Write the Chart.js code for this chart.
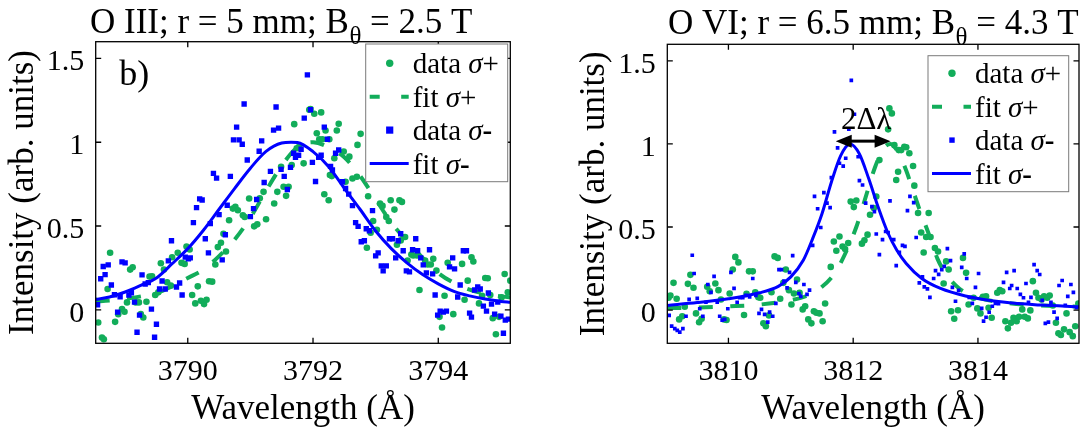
<!DOCTYPE html>
<html>
<head>
<meta charset="utf-8">
<script src="https://cdn.jsdelivr.net/npm/chart.js@4.4.1/dist/chart.umd.min.js"></script>
<style>
  html, body { margin: 0; padding: 0; background: #fff; }
  #wrap { position: relative; width: 1083px; height: 434px; overflow: hidden; }
  canvas { position: absolute; top: 0; }
  #left { left: 0; }
  #right { left: 541px; }
</style>
</head>
<body>
<div id="wrap">
  <canvas id="left" width="541" height="434"></canvas>
  <canvas id="right" width="542" height="434"></canvas>
</div>
<script>
// ---- O III panel (left) ----
const o3PlusX = [3788.53,3788.57,3788.63,3788.66,3788.72,3788.76,3788.84,3788.89,3788.95,3788.99,3789.03,3789.08,3789.12,3789.17,3789.22,3789.25,3789.29,3789.34,3789.39,3789.43,3789.48,3789.53,3789.57,3789.62,3789.67,3789.73,3789.75,3789.84,3789.90,3789.95,3789.98,3790.03,3790.07,3790.12,3790.16,3790.21,3790.26,3790.30,3790.34,3790.39,3790.44,3790.48,3790.53,3790.57,3790.61,3790.66,3790.72,3790.76,3790.80,3790.88,3790.91,3790.98,3791.06,3791.11,3791.15,3791.21,3791.25,3791.38,3791.43,3791.49,3791.53,3791.57,3791.61,3791.66,3791.70,3791.74,3791.78,3791.85,3791.94,3791.96,3792.02,3792.06,3792.10,3792.13,3792.15,3792.18,3792.20,3792.25,3792.26,3792.27,3792.30,3792.34,3792.38,3792.41,3792.49,3792.52,3792.58,3792.63,3792.70,3792.71,3792.76,3792.86,3792.88,3792.92,3792.96,3793.02,3793.07,3793.11,3793.17,3793.21,3793.24,3793.30,3793.34,3793.38,3793.40,3793.42,3793.47,3793.51,3793.57,3793.60,3793.66,3793.70,3793.79,3793.83,3793.88,3793.92,3793.97,3794.02,3794.06,3794.10,3794.15,3794.24,3794.38,3794.42,3794.47,3794.53,3794.56,3794.65,3794.70,3794.75,3794.79,3794.83,3794.87,3794.92,3794.97,3795.01,3795.06,3795.11,3795.15];
const o3PlusY = [0.054,-0.076,-0.166,-0.176,0.124,0.34,-0.072,-0.026,0.004,-0.012,0.044,0.24,0.254,0.044,0.044,-0.026,-0.046,0.048,0.198,0.2,0.088,0.104,0.278,0.24,0.164,0.144,0.314,0.34,0.28,0.274,0.378,0.36,0.088,0.038,0.14,0.054,0.034,0.06,0.17,0.168,0.27,0.374,0.4,0.454,0.348,0.534,0.604,0.614,0.594,0.564,0.554,0.664,0.498,0.51,0.665,0.704,0.54,0.634,0.704,0.854,0.734,0.68,0.734,0.864,1.108,0.964,0.974,0.874,1.194,1.198,1.17,1.054,1.018,1.178,1.018,0.69,1.07,0.654,1.018,0.804,0.798,0.904,1.07,1.11,0.944,0.764,0.914,0.784,0.794,0.984,1.05,0.37,0.678,0.46,0.53,0.478,0.634,0.62,0.554,0.53,0.654,0.598,0.388,0.654,0.414,0.644,0.434,0.294,0.33,0.324,0.324,0.118,0.294,0.27,0.27,0.304,0.234,-0.042,-0.106,0.084,0.28,-0.026,0.274,0.06,0.174,0.314,0.288,0.038,0.084,0.19,0.188,0.088,-0.05,-0.146,-0.042,0.074,0.214,0.104,0.174];
const o3MinusX = [3788.56,3788.61,3788.65,3788.68,3788.73,3788.78,3788.83,3788.88,3788.92,3788.95,3789.00,3789.06,3789.10,3789.15,3789.19,3789.23,3789.27,3789.32,3789.37,3789.42,3789.47,3789.50,3789.55,3789.59,3789.64,3789.69,3789.74,3789.82,3789.87,3789.91,3789.96,3790.01,3790.04,3790.09,3790.14,3790.19,3790.23,3790.28,3790.33,3790.36,3790.41,3790.46,3790.50,3790.55,3790.60,3790.63,3790.68,3790.73,3790.78,3790.82,3790.87,3790.90,3790.95,3791.00,3791.05,3791.10,3791.14,3791.18,3791.22,3791.32,3791.37,3791.41,3791.45,3791.49,3791.54,3791.59,3791.64,3791.69,3791.72,3791.77,3791.81,3791.86,3791.91,3791.96,3791.99,3792.04,3792.09,3792.13,3792.18,3792.23,3792.28,3792.31,3792.36,3792.41,3792.47,3792.52,3792.57,3792.63,3792.68,3792.72,3792.77,3792.82,3792.85,3792.90,3792.95,3793.00,3793.04,3793.09,3793.12,3793.17,3793.22,3793.27,3793.32,3793.36,3793.40,3793.44,3793.49,3793.54,3793.59,3793.64,3793.67,3793.72,3793.76,3793.81,3793.86,3793.91,3793.95,3793.99,3794.03,3794.08,3794.13,3794.18,3794.23,3794.26,3794.31,3794.35,3794.40,3794.45,3794.50,3794.53,3794.58,3794.63,3794.67,3794.72,3794.77,3794.80,3794.85,3794.90,3794.95,3795.00,3795.04,3795.07,3795.12];
const o3MinusY = [0.03,0.185,0.258,0.21,0.268,0.148,0.09,-0.014,0.078,0.286,0.28,0.088,0.102,0.046,-0.134,-0.032,0.208,0.154,0.162,0.004,-0.164,-0.086,0.124,0.172,0.124,0.292,0.412,0.136,0.16,0.088,0.314,0.304,0.31,0.52,0.61,0.662,0.655,0.424,0.34,0.514,0.814,0.786,0.568,0.298,0.448,0.624,0.796,1.014,1.09,1.014,0.988,1.228,0.894,0.556,0.604,0.658,0.946,1.008,0.76,0.826,1.072,1.21,1.084,0.838,0.796,0.718,0.85,0.934,0.91,0.922,0.958,1.144,1.402,1.194,0.88,0.766,0.91,0.922,1.09,1.018,0.856,0.834,0.934,0.954,0.764,0.724,0.69,0.622,0.52,0.498,0.406,0.412,0.484,0.472,0.592,0.322,0.34,0.262,0.232,0.262,0.424,0.424,0.31,0.412,0.454,0.352,0.232,0.226,0.358,0.424,0.352,0.31,0.268,0.22,0.358,0.214,0.088,-0.032,-0.008,-0.014,-0.008,0.256,0.31,0.244,0.076,0.148,0.352,0.352,-0.02,-0.044,0.118,0.136,0.124,0.022,-0.008,0.1,0.034,-0.026,0.046,-0.038,-0.14,-0.062,-0.056];
const o3FitPlusX = [3788.53,3788.75,3789.0,3789.25,3789.5,3789.75,3790.0,3790.25,3790.5,3790.75,3791.0,3791.25,3791.5,3791.75,3792.0,3792.25,3792.5,3792.75,3793.0,3793.25,3793.5,3793.75,3794.0,3794.25,3794.5,3794.75,3795.0,3795.15];
const o3FitPlusY = [0.05,0.055,0.065,0.08,0.10,0.14,0.19,0.24,0.32,0.42,0.55,0.71,0.86,0.97,1.0,0.97,0.91,0.80,0.66,0.52,0.41,0.31,0.22,0.16,0.12,0.095,0.08,0.075];
const o3FitMinusX = [3788.53,3788.75,3789.0,3789.25,3789.5,3789.75,3790.0,3790.25,3790.5,3790.75,3791.0,3791.25,3791.5,3791.65,3791.75,3792.0,3792.25,3792.5,3792.75,3793.0,3793.25,3793.5,3793.75,3794.0,3794.25,3794.5,3794.75,3795.0,3795.15];
const o3FitMinusY = [0.062,0.076,0.106,0.146,0.19,0.275,0.365,0.475,0.60,0.725,0.845,0.945,0.995,1.0,0.998,0.944,0.854,0.725,0.60,0.47,0.365,0.28,0.21,0.155,0.11,0.083,0.064,0.05,0.045];

// ---- O VI panel (right) ----
const o6PlusX = [3809.04,3809.07,3809.12,3809.17,3809.21,3809.26,3809.30,3809.35,3809.39,3809.44,3809.48,3809.53,3809.57,3809.66,3809.70,3809.79,3809.84,3809.88,3809.93,3809.97,3810.02,3810.07,3810.11,3810.16,3810.25,3810.29,3810.33,3810.39,3810.43,3810.48,3810.51,3810.56,3810.60,3810.65,3810.69,3810.74,3810.79,3810.83,3810.88,3810.92,3810.97,3811.01,3811.05,3811.10,3811.14,3811.19,3811.23,3811.28,3811.33,3811.37,3811.41,3811.46,3811.51,3811.55,3811.64,3811.69,3811.73,3811.78,3811.83,3811.87,3811.92,3811.96,3812.01,3812.05,3812.14,3812.18,3812.23,3812.27,3812.33,3812.37,3812.42,3812.56,3812.58,3812.62,3812.66,3812.69,3812.72,3812.73,3812.77,3812.82,3812.85,3812.90,3812.96,3812.98,3813.04,3813.09,3813.13,3813.17,3813.21,3813.24,3813.31,3813.36,3813.45,3813.49,3813.53,3813.57,3813.62,3813.68,3813.76,3813.81,3813.85,3813.93,3813.99,3814.04,3814.08,3814.13,3814.17,3814.22,3814.31,3814.35,3814.39,3814.44,3814.48,3814.53,3814.57,3814.62,3814.66,3814.71,3814.75,3814.80,3814.84,3814.88,3814.93,3814.97,3815.02,3815.06,3815.11,3815.15,3815.20,3815.25,3815.29,3815.33,3815.38,3815.42,3815.47,3815.52,3815.56,3815.61];
const o6PlusY = [0.074,0.088,0.164,0.068,-0.056,-0.037,0.02,0.158,0.212,0.134,-0.02,-0.073,-0.052,0.14,0.113,0.16,0.12,0.064,-0.056,-0.06,0.1,0.244,0.32,0.287,-0.03,0.098,0.233,0.233,0.107,0.077,0.074,-0.08,-0.097,-0.032,0.107,0.323,0.314,0.068,0.164,0.244,0.12,0.034,0.1,0.184,0.104,0.004,0.023,-0.056,-0.08,-0.007,-0.016,-0.02,-0.067,0.04,0.26,0.413,0.357,0.443,0.383,0.368,0.404,0.653,0.62,0.66,0.4,0.42,0.454,0.574,0.614,0.684,0.903,1.088,1.214,1.184,0.993,0.783,0.833,0.963,0.963,0.983,0.98,0.944,0.867,0.749,0.584,0.467,0.347,0.44,0.584,0.44,0.374,0.353,0.16,0.293,0.244,-0.007,-0.052,-0.001,0.314,0.224,0.034,0.074,0.01,-0.02,0.08,0.083,0.014,-0.046,0.104,0.12,0.113,-0.067,-0.11,-0.076,-0.046,-0.067,-0.04,0.004,-0.04,-0.05,-0.002,0.174,0.104,0.074,0.064,0.083,0.074,0.088,0.028,-0.076,-0.14,-0.15,-0.116,-0.02,-0.133,-0.157,-0.097,0.04];
const o6MinusX = [3809.05,3809.09,3809.14,3809.18,3809.22,3809.27,3809.32,3809.37,3809.42,3809.45,3809.50,3809.54,3809.59,3809.64,3809.67,3809.72,3809.77,3809.82,3809.86,3809.90,3809.94,3809.99,3810.04,3810.09,3810.14,3810.18,3810.23,3810.28,3810.34,3810.39,3810.44,3810.49,3810.53,3810.58,3810.63,3810.66,3810.71,3810.76,3810.81,3810.85,3810.89,3810.94,3810.98,3811.03,3811.08,3811.13,3811.16,3811.21,3811.26,3811.30,3811.35,3811.38,3811.43,3811.48,3811.53,3811.58,3811.63,3811.65,3811.70,3811.75,3811.78,3811.84,3811.88,3811.93,3811.97,3812.02,3812.08,3812.10,3812.15,3812.20,3812.30,3812.34,3812.37,3812.42,3812.47,3812.52,3812.56,3812.59,3812.65,3812.69,3812.74,3812.79,3812.83,3812.87,3812.91,3812.97,3813.01,3813.06,3813.11,3813.14,3813.19,3813.23,3813.29,3813.32,3813.37,3813.42,3813.46,3813.51,3813.56,3813.59,3813.64,3813.69,3813.74,3813.78,3813.82,3813.86,3813.91,3813.96,3814.01,3814.06,3814.09,3814.13,3814.18,3814.23,3814.28,3814.33,3814.41,3814.46,3814.51,3814.54,3814.58,3814.63,3814.68,3814.73,3814.77,3814.81,3814.85,3814.90,3814.95,3814.99,3815.03,3815.08,3815.13,3815.17,3815.22,3815.27,3815.30,3815.35,3815.40,3815.44,3815.49,3815.53,3815.58];
const o6MinusY = [-0.032,-0.097,-0.112,-0.122,-0.133,-0.112,-0.037,0.064,0.33,0.22,0.07,0.008,-0.037,0.047,0.154,0.107,0.203,0.047,-0.037,-0.06,-0.056,0.008,0.227,0.131,0.047,0.074,0.074,0.088,0.08,0.19,0.088,-0.02,0.004,-0.026,-0.073,-0.012,-0.037,0.04,0.244,0.244,0.174,0.134,0.227,0.328,0.167,0.1,0.083,0.154,0.094,0.12,0.39,0.684,0.61,0.497,0.707,0.644,0.617,0.797,1.073,0.977,0.884,0.867,0.914,1.089,1.383,1.179,0.923,0.779,0.753,0.644,0.623,0.593,0.458,0.334,0.424,0.473,0.467,0.657,0.424,0.268,0.347,0.389,0.383,0.599,0.684,0.647,0.437,0.164,0.2,0.14,0.128,0.077,0.19,0.238,0.215,0.244,0.263,0.37,0.298,0.137,0.053,0.119,0.257,0.338,0.19,0.077,0.04,0.137,0.22,0.01,-0.067,-0.043,-0.013,0.023,0.04,0.038,0.167,0.227,0.13,0.148,0.238,0.13,0.094,0.074,0.16,0.047,0.077,0.274,0.238,0.214,0.058,-0.08,-0.073,0.047,-0.012,-0.05,0.148,0.178,0.028,0.083,0.154,0.107,0.014];
const o6FitPlusX = [3809.02,3809.5,3810.0,3810.5,3811.0,3811.25,3811.5,3811.7,3811.86,3812.05,3812.2,3812.35,3812.48,3812.6,3812.72,3812.85,3812.95,3813.05,3813.2,3813.35,3813.5,3813.7,3814.0,3814.5,3815.0,3815.62];
const o6FitPlusY = [0.012,0.015,0.022,0.033,0.06,0.085,0.14,0.22,0.33,0.50,0.68,0.86,0.97,1.0,0.95,0.84,0.73,0.62,0.47,0.31,0.21,0.13,0.075,0.042,0.028,0.02];
const o6FitMinusX = [3809.02,3809.5,3810.0,3810.5,3810.8,3811.0,3811.2,3811.35,3811.5,3811.65,3811.8,3811.95,3812.1,3812.25,3812.4,3812.55,3812.7,3812.85,3813.1,3813.4,3813.8,3814.4,3815.0,3815.62];
const o6FitMinusY = [0.028,0.045,0.068,0.104,0.143,0.20,0.30,0.43,0.58,0.77,0.93,1.0,0.94,0.79,0.62,0.47,0.36,0.28,0.19,0.13,0.085,0.048,0.03,0.02];

// axes
const o3XRange = [3788.53, 3795.15];
const o6XRange = [3809.02, 3815.62];
const o3XTicks = [3790, 3792, 3794];
const o6XTicks = [3810, 3812, 3814];
const yRange = [-0.2, 1.6];
const yTicks = [0, 0.5, 1, 1.5];
const yTickLabels = ["0", "0.5", "1", "1.5"];

// 2Δλ arrow on the O VI panel: [x start, x end, y]
const splitArrow = [3811.72, 3812.6, 1.017];

const GREEN = "#12ad5a";
const BLUE = "#0000ff";
const SERIF = '"Liberation Serif", "Times New Roman", serif';

Chart.defaults.font.family = SERIF;
Chart.defaults.color = "#000";

function pairs(xs, ys) {
  return xs.map((x, i) => ({ x: x, y: ys[i] }));
}

function drawLegend(ctx, a, lg) {
  const bx = a.right - lg.dx, by = a.top + lg.dy;
  ctx.fillStyle = "#fff";
  ctx.fillRect(bx, by, lg.w, lg.h);
  ctx.strokeStyle = "#7a7a7a";
  ctx.lineWidth = 1;
  ctx.strokeRect(bx, by, lg.w, lg.h);
  const rows = [
    { kind: "dot", main: "data ", sign: "+" },
    { kind: "dash", main: "fit ", sign: "+" },
    { kind: "square", main: "data ", sign: "-" },
    { kind: "line", main: "fit ", sign: "-" },
  ];
  rows.forEach((r, i) => {
    const base = by + lg.first + i * 33.4;
    const my = base - 10;
    if (r.kind === "dot") {
      ctx.fillStyle = GREEN;
      ctx.beginPath();
      ctx.arc(bx + 24, my, 3.7, 0, Math.PI * 2);
      ctx.fill();
    } else if (r.kind === "square") {
      ctx.fillStyle = BLUE;
      ctx.fillRect(bx + 24 - lg.sq, my - lg.sq, lg.sq * 2, lg.sq * 2);
    } else {
      ctx.strokeStyle = r.kind === "dash" ? GREEN : BLUE;
      ctx.lineWidth = r.kind === "dash" ? 4 : 3;
      ctx.setLineDash(r.kind === "dash" ? [10, 21.5] : []);
      ctx.beginPath();
      ctx.moveTo(bx + 4, my);
      ctx.lineTo(bx + 43, my);
      ctx.stroke();
      ctx.setLineDash([]);
    }
    ctx.fillStyle = "#000";
    ctx.textAlign = "left";
    ctx.textBaseline = "alphabetic";
    let tx = bx + 47;
    ctx.font = "29px " + SERIF;
    ctx.fillText(r.main, tx, base);
    tx += ctx.measureText(r.main).width;
    ctx.font = "italic 29px " + SERIF;
    ctx.fillText("σ", tx, base);
    tx += ctx.measureText("σ").width;
    ctx.font = (r.sign === "-" ? "bold " : "") + "29px " + SERIF;
    ctx.fillText(r.sign, tx, base);
  });
}

const decor = {
  id: "decor",
  afterDatasetsDraw(chart, args, o) {
    const { ctx, chartArea: a } = chart;
    const x = chart.scales.x, y = chart.scales.y;
    ctx.save();
    // box and inward ticks on all four sides
    ctx.strokeStyle = "#000";
    ctx.lineWidth = 1.3;
    ctx.strokeRect(a.left, a.top, a.right - a.left, a.bottom - a.top);
    const L = 5.5;
    ctx.beginPath();
    x.ticks.forEach(t => {
      const px = x.getPixelForValue(t.value);
      ctx.moveTo(px, a.bottom); ctx.lineTo(px, a.bottom - L);
      ctx.moveTo(px, a.top); ctx.lineTo(px, a.top + L);
    });
    y.ticks.forEach(t => {
      const py = y.getPixelForValue(t.value);
      ctx.moveTo(a.left, py); ctx.lineTo(a.left + L, py);
      ctx.moveTo(a.right, py); ctx.lineTo(a.right - L, py);
    });
    ctx.stroke();

    if (o.arrow) {
      const x1 = x.getPixelForValue(o.arrow[0]);
      const x2 = x.getPixelForValue(o.arrow[1]);
      const ay = y.getPixelForValue(o.arrow[2]);
      const hl = 16, hw = 6.5;
      ctx.strokeStyle = "#000";
      ctx.fillStyle = "#000";
      ctx.lineWidth = 3;
      ctx.beginPath();
      ctx.moveTo(x1 + hl - 2, ay); ctx.lineTo(x2 - hl + 2, ay);
      ctx.stroke();
      ctx.beginPath();
      ctx.moveTo(x1, ay); ctx.lineTo(x1 + hl, ay - hw); ctx.lineTo(x1 + hl, ay + hw); ctx.closePath();
      ctx.moveTo(x2, ay); ctx.lineTo(x2 - hl, ay - hw); ctx.lineTo(x2 - hl, ay + hw); ctx.closePath();
      ctx.fill();
      ctx.font = "31px " + SERIF;
      ctx.textAlign = "center";
      ctx.textBaseline = "alphabetic";
      ctx.fillText("2Δλ", (x1 + x2) / 2 + 3, ay - 12);
    }

    if (o.tag) {
      ctx.fillStyle = "#000";
      ctx.font = "36px " + SERIF;
      ctx.textAlign = "left";
      ctx.textBaseline = "alphabetic";
      ctx.fillText(o.tag, a.left + 23.5, a.top + 43.3);
    }

    drawLegend(ctx, a, o.legend);

    // title with subscript theta
    const t = o.title;
    ctx.fillStyle = "#000";
    ctx.textAlign = "left";
    ctx.textBaseline = "alphabetic";
    ctx.font = "35px " + SERIF;
    ctx.fillText(t.pre, t.x, t.y);
    let tx = t.x + ctx.measureText(t.pre).width + 0.5;
    ctx.font = "25px " + SERIF;
    ctx.fillText("θ", tx, t.y + 10.5);
    tx += ctx.measureText("θ").width;
    ctx.font = "35px " + SERIF;
    ctx.fillText(t.post, tx, t.y);
    ctx.restore();
  }
};

function panel(id, p) {
  return new Chart(document.getElementById(id), {
    type: "scatter",
    data: {
      datasets: [
        { label: "data σ+", data: pairs(p.plusX, p.plusY), pointStyle: "circle", pointRadius: 3.3,
          backgroundColor: GREEN, pointBorderWidth: 0, pointBorderColor: GREEN, order: 3 },
        { label: "fit σ+", data: pairs(p.fitPlusX, p.fitPlusY), showLine: true, borderColor: GREEN,
          borderWidth: 4, borderDash: [14, 17.5], pointRadius: 0, cubicInterpolationMode: "monotone", order: 2 },
        { label: "data σ-", data: pairs(p.minusX, p.minusY), pointStyle: "rect", pointRadius: p.sqR,
          backgroundColor: BLUE, pointBorderWidth: 0, pointBorderColor: BLUE, order: 1 },
        { label: "fit σ-", data: pairs(p.fitMinusX, p.fitMinusY), showLine: true, borderColor: BLUE,
          borderWidth: 3, pointRadius: 0, cubicInterpolationMode: "monotone", order: 0 },
      ],
    },
    options: {
      responsive: false,
      animation: false,
      devicePixelRatio: 1,
      events: [],
      layout: { padding: { top: p.padTop, right: p.padRight, left: p.padLeft, bottom: 0 } },
      plugins: {
        legend: { display: false },
        tooltip: { enabled: false },
        decor: { title: p.title, legend: p.legend, arrow: p.arrow, tag: p.tag },
      },
      scales: {
        x: {
          type: "linear",
          min: p.xRange[0],
          max: p.xRange[1],
          grid: { display: false, drawTicks: false },
          border: { display: false },
          afterBuildTicks: s => { s.ticks = p.xTicks.map(v => ({ value: v })); },
          afterFit: s => { s.height = 90.7; },
          ticks: { font: { size: 30, lineHeight: 1.2 }, padding: 10.5, color: "#000", callback: v => String(v) },
          title: { display: true, text: "Wavelength (Å)", color: "#000",
                   font: { size: 35, lineHeight: 1 }, padding: { top: 0, bottom: 6.5 } },
        },
        y: {
          type: "linear",
          min: yRange[0],
          max: yRange[1],
          grid: { display: false, drawTicks: false },
          border: { display: false },
          afterBuildTicks: s => { s.ticks = yTicks.map(v => ({ value: v })); },
          afterFit: s => { s.width = p.yWidth; },
          ticks: { font: { size: 30, lineHeight: 1.2 }, padding: 11.5, labelOffset: 4, color: "#000",
                   callback: v => yTickLabels[yTicks.indexOf(v)] },
          title: { display: true, text: "Intensity (arb. units)", color: "#000",
                   font: { size: 35, lineHeight: 1 }, padding: { top: 6, bottom: 0 } },
        },
      },
    },
    plugins: [decor],
  });
}

panel("left", {
  plusX: o3PlusX, plusY: o3PlusY, minusX: o3MinusX, minusY: o3MinusY,
  fitPlusX: o3FitPlusX, fitPlusY: o3FitPlusY, fitMinusX: o3FitMinusX, fitMinusY: o3FitMinusY,
  xRange: o3XRange, xTicks: o3XTicks, sqR: 3.8,
  padTop: 41.7, padRight: 30.7, padLeft: 0, yWidth: 95.7,
  title: { pre: "O III; r = 5 mm; B", post: " = 2.5 T", x: 90, y: 33.3 },
  legend: { dx: 144.6, dy: 2.3, w: 142, h: 137.7, first: 29.3, sq: 3.6 },
  tag: "b)",
});

panel("right", {
  plusX: o6PlusX, plusY: o6PlusY, minusX: o6MinusX, minusY: o6MinusY,
  fitPlusX: o6FitPlusX, fitPlusY: o6FitPlusY, fitMinusX: o6FitMinusX, fitMinusY: o6FitMinusY,
  xRange: o6XRange, xTicks: o6XTicks, sqR: 2.6,
  padTop: 44.3, padRight: 3.7, padLeft: 30.5, yWidth: 95.8,
  title: { pre: "O VI; r = 6.5 mm; B", post: " = 4.3 T", x: 127, y: 34 },
  legend: { dx: 151, dy: 11.4, w: 140.7, h: 136, first: 27.6, sq: 2.7 },
  arrow: splitArrow,
});
</script>
</body>
</html>
